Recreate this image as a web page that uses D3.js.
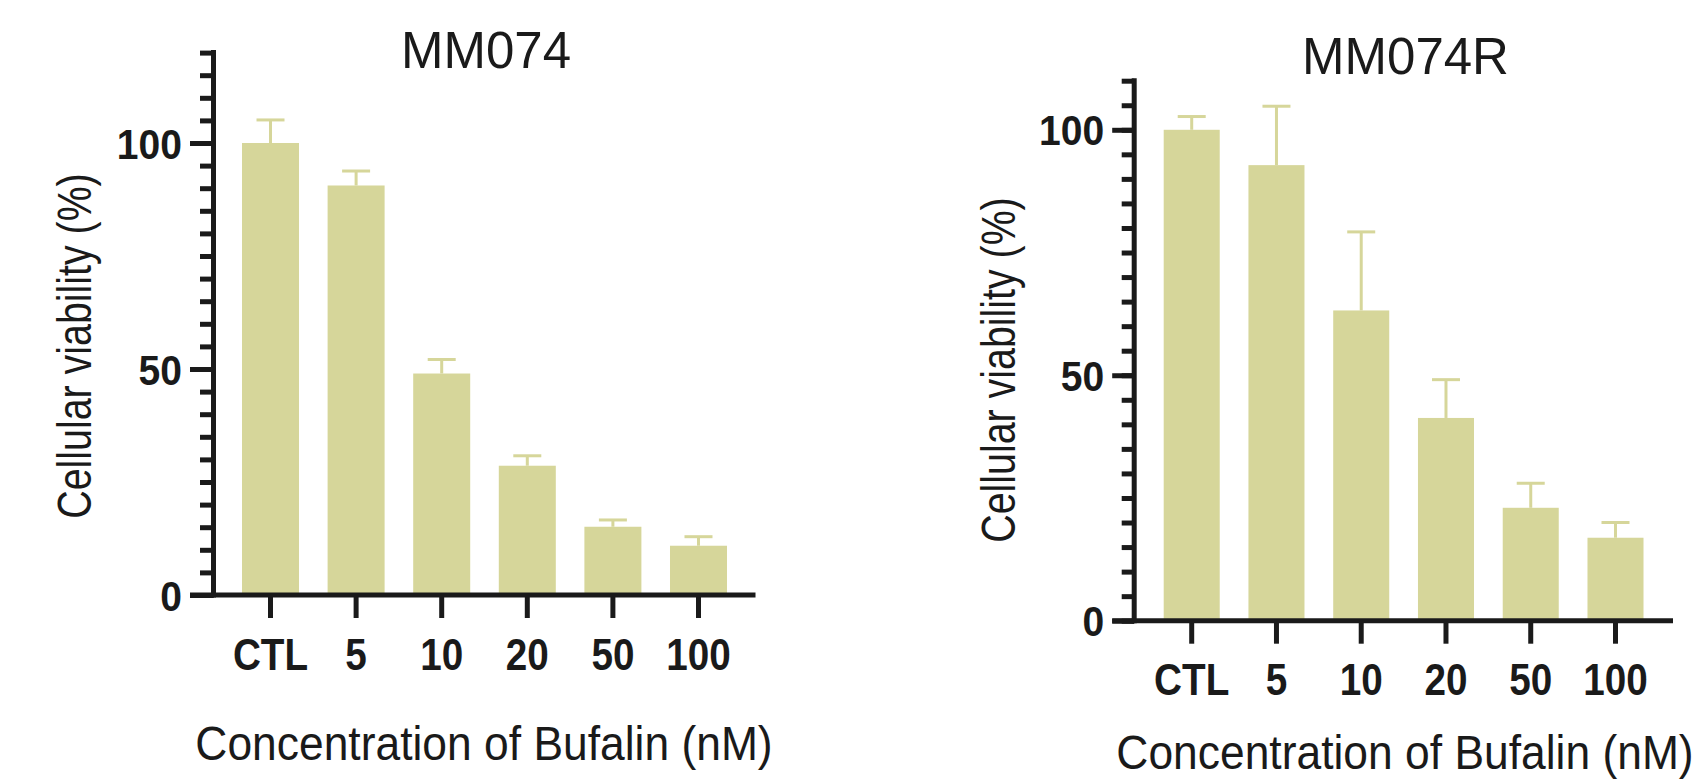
<!DOCTYPE html>
<html>
<head>
<meta charset="utf-8">
<script src="https://cdn.jsdelivr.net/npm/d3@7"></script>
<style>
body { margin: 0; background: #fff; }
svg { display: block; font-family: "Liberation Sans", Arial, Helvetica, sans-serif; }
</style>
</head>
<body>
<svg id="chart" width="1701" height="781"></svg>
<script>
// concentration of bufalin (nM)
var categories = ["CTL", "5", "10", "20", "50", "100"];

// MM074: cellular viability (%), mean and error (upper whisker)
var mm074Mean = [100, 90.6, 49.0, 28.6, 15.1, 10.9];
var mm074Err  = [5.1, 3.2, 3.1, 2.2, 1.5, 2.0];

// MM074R
var mm074rMean = [100, 92.8, 63.2, 41.3, 23.0, 16.9];
var mm074rErr  = [2.7, 12.0, 16.0, 7.8, 5.0, 3.1];

var majorTicks = [0, 50, 100];
var minorStep = 5;

var barColor = "#d6d69a";
var inkColor = "#1a1a1a";

var svg = d3.select("#chart");
svg.append("rect").attr("width", 1701).attr("height", 781).attr("fill", "#fff");

function drawPanel(p) {
    var g = svg.append("g");

    var x = d3.scaleBand()
        .domain(categories)
        .range([p.left, p.right])
        .paddingInner(p.padIn)
        .paddingOuter(p.padOut);
    var y = d3.scaleLinear().domain([0, p.max]).range([p.bottom, p.top]);

    var cx = function (i) { return x(categories[i]) + x.bandwidth() / 2; };

    // bars
    g.selectAll(".bar").data(p.mean).join("rect")
        .attr("class", "bar")
        .attr("x", function (d, i) { return x(categories[i]); })
        .attr("y", function (d) { return y(d); })
        .attr("width", x.bandwidth())
        .attr("height", function (d) { return y(0) - y(d); })
        .attr("fill", barColor);

    // upper error whiskers + caps
    g.selectAll(".err").data(p.mean).join("line")
        .attr("class", "err")
        .attr("x1", function (d, i) { return cx(i); })
        .attr("x2", function (d, i) { return cx(i); })
        .attr("y1", function (d) { return y(d); })
        .attr("y2", function (d, i) { return y(d + p.err[i]); })
        .attr("stroke", barColor)
        .attr("stroke-width", 3);
    g.selectAll(".cap").data(p.mean).join("line")
        .attr("class", "cap")
        .attr("x1", function (d, i) { return cx(i) - 14; })
        .attr("x2", function (d, i) { return cx(i) + 14; })
        .attr("y1", function (d, i) { return y(d + p.err[i]); })
        .attr("y2", function (d, i) { return y(d + p.err[i]); })
        .attr("stroke", barColor)
        .attr("stroke-width", 3);

    // minor y ticks
    var minor = g.append("g")
        .attr("transform", "translate(" + p.left + ",0)")
        .call(d3.axisLeft(y).tickValues(d3.range(0, p.max + 1, minorStep)).tickSize(p.minorLen).tickFormat(""));
    minor.select(".domain").remove();
    minor.selectAll("line").attr("stroke", inkColor).attr("stroke-width", 5);

    // major y ticks with labels
    var major = g.append("g")
        .attr("transform", "translate(" + p.left + ",0)")
        .call(d3.axisLeft(y).tickValues(majorTicks).tickSize(p.majorLen));
    major.select(".domain").remove();
    major.selectAll("line").attr("stroke", inkColor).attr("stroke-width", 5);
    major.selectAll("text")
        .attr("x", 0).attr("dy", null)
        .attr("y", 0.358 * 42)
        .attr("transform", "translate(" + (-(p.majorLen + 8)) + ",0) scale(0.93,1)")
        .attr("font-size", 42)
        .attr("font-weight", "bold")
        .attr("font-family", null)
        .attr("fill", inkColor);

    // x ticks with labels
    var xa = g.append("g")
        .attr("transform", "translate(0," + p.bottom + ")")
        .call(d3.axisBottom(x).tickSize(23).tickSizeOuter(0));
    xa.select(".domain").remove();
    xa.selectAll("line").attr("stroke", inkColor).attr("stroke-width", 5);
    xa.selectAll("text")
        .attr("y", 0).attr("dy", null)
        .attr("transform", "translate(0," + p.labelDy + ") scale(0.86,1)")
        .attr("font-size", 45)
        .attr("font-weight", "bold")
        .attr("font-family", null)
        .attr("fill", inkColor);

    // axis lines
    g.append("line")
        .attr("x1", p.left).attr("x2", p.left)
        .attr("y1", y(0)).attr("y2", y(p.max))
        .attr("stroke", inkColor).attr("stroke-width", 5)
        .attr("stroke-linecap", "square");
    g.append("line")
        .attr("x1", p.left - p.majorLen).attr("x2", p.right)
        .attr("y1", y(0)).attr("y2", y(0))
        .attr("stroke", inkColor).attr("stroke-width", 5);

    // titles
    g.append("text")
        .attr("x", p.titleX).attr("y", p.titleY)
        .attr("text-anchor", "middle")
        .attr("font-size", 51)
        .attr("fill", inkColor)
        .text(p.title);

    g.append("text")
        .attr("transform", "translate(" + p.yTitleX + "," + p.yTitleY + ") rotate(-90) scale(0.82,1)")
        .attr("text-anchor", "middle")
        .attr("font-size", 48)
        .attr("fill", inkColor)
        .text("Cellular viability (%)");

    g.append("text")
        .attr("transform", "translate(" + p.xTitleX + "," + p.xTitleY + ") scale(0.925,1)")
        .attr("text-anchor", "middle")
        .attr("font-size", 48)
        .attr("fill", inkColor)
        .text("Concentration of Bufalin (nM)");
}

drawPanel({
    mean: mm074Mean, err: mm074Err, max: 120, title: "MM074",
    left: 213.5, right: 755.5, padIn: 0.334, padOut: 0.333,
    bottom: 595, top: 52.6, majorLen: 23.5, minorLen: 13.5, labelDy: 75,
    titleX: 486, titleY: 68,
    yTitleX: 91, yTitleY: 346,
    xTitleX: 484, xTitleY: 760
});

drawPanel({
    mean: mm074rMean, err: mm074rErr, max: 110, title: "MM074R",
    left: 1134.2, right: 1673, padIn: 0.339, padOut: 0.348,
    bottom: 620.7, top: 80.7, majorLen: 22, minorLen: 12.5, labelDy: 74,
    titleX: 1405.5, titleY: 74,
    yTitleX: 1015, yTitleY: 370,
    xTitleX: 1405, xTitleY: 769
});
</script>
</body>
</html>
